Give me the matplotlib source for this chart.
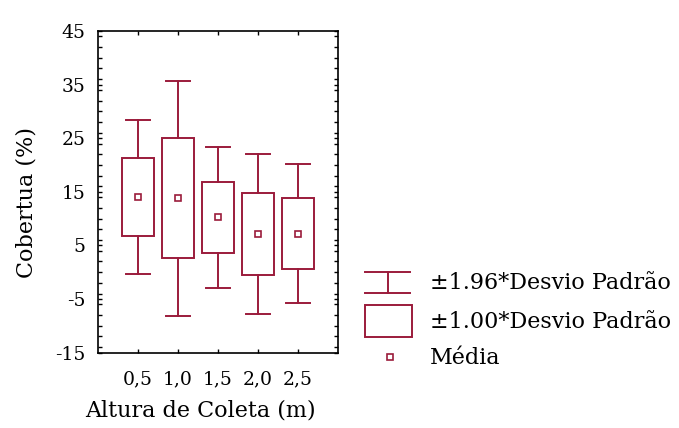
import matplotlib
matplotlib.use("Agg")
import matplotlib.pyplot as plt
from matplotlib.patches import Rectangle
from matplotlib.ticker import MultipleLocator
import numpy as np

# Coverage (%) by collection height: mean and standard deviation
alturas = [0.5, 1.0, 1.5, 2.0, 2.5]
tick_labels = ["0,5", "1,0", "1,5", "2,0", "2,5"]
medias = [14.0, 13.8, 10.2, 7.1, 7.2]
desvios = [7.3, 11.2, 6.7, 7.6, 6.6]

cor = "#9B1B3B"
plt.rcParams["font.family"] = ["DejaVu Serif"]
plt.rcParams["axes.unicode_minus"] = False
fs_tick = 13.5
fs_lab = 16

fig = plt.figure(figsize=(6.79, 4.28), dpi=100)
ax = fig.add_axes([0.1443, 0.1764, 0.3535, 0.7512])

box_w = 0.39
cap_w = 0.29
for x, m, s in zip(alturas, medias, desvios):
    lo1, hi1 = m - s, m + s
    lo2, hi2 = m - 1.96 * s, m + 1.96 * s
    # whiskers (±1.96 SD)
    ax.plot([x, x], [hi1, hi2], color=cor, lw=1.4)
    ax.plot([x, x], [lo2, lo1], color=cor, lw=1.4)
    ax.plot([x - cap_w / 2, x + cap_w / 2], [hi2, hi2], color=cor, lw=1.4)
    ax.plot([x - cap_w / 2, x + cap_w / 2], [lo2, lo2], color=cor, lw=1.4)
    # box (±1.00 SD)
    ax.add_patch(Rectangle((x - box_w / 2, lo1), box_w, hi1 - lo1,
                           fill=False, edgecolor=cor, lw=1.4))
    # mean
    ax.plot([x], [m], marker="s", ms=4, mfc="white", mec=cor, mew=1.2)

ax.set_xlim(0, 3)
ax.set_ylim(-15, 45)
ax.set_xticks(alturas)
ax.set_xticklabels(tick_labels)
ax.set_yticks(np.arange(-15, 46, 10))
ax.yaxis.set_minor_locator(MultipleLocator(2))
ax.tick_params(axis="both", which="both", direction="in", top=True, right=True,
               labelsize=fs_tick, length=3, width=1.0)
ax.tick_params(axis="y", which="major", pad=9)
ax.tick_params(axis="x", which="major", pad=13)
for sp in ax.spines.values():
    sp.set_linewidth(1.2)

ax.set_xlabel("Altura de Coleta (m)", fontsize=fs_lab, va="center")
ax.xaxis.set_label_coords(0.425, -0.18)
ax.set_ylabel("Cobertua (%)", fontsize=fs_lab, va="center")
ax.yaxis.set_label_coords(-0.296, 0.465)

# Legend drawn in a pixel-coordinate overlay
lg = fig.add_axes([0, 0, 1, 1], facecolor="none")
lg.set_xlim(0, 679)
lg.set_ylim(428, 0)
lg.axis("off")
# ±1.96 SD symbol
lg.plot([365, 410], [272, 272], color=cor, lw=1.4)
lg.plot([365, 410], [293, 293], color=cor, lw=1.4)
lg.plot([387.5, 387.5], [272, 293], color=cor, lw=1.4)
# ±1.00 SD symbol
lg.add_patch(Rectangle((365, 305), 47, 32, fill=False, edgecolor=cor, lw=1.4))
# mean symbol
lg.plot([390], [357], marker="s", ms=4, mfc="white", mec=cor, mew=1.2)
lg.text(430, 283, "±1.96*Desvio Padrão", fontsize=fs_lab, va="center", ha="left")
lg.text(430, 322, "±1.00*Desvio Padrão", fontsize=fs_lab, va="center", ha="left")
lg.text(430, 358, "Média", fontsize=fs_lab, va="center", ha="left")

fig.savefig("out.png", dpi=100)
